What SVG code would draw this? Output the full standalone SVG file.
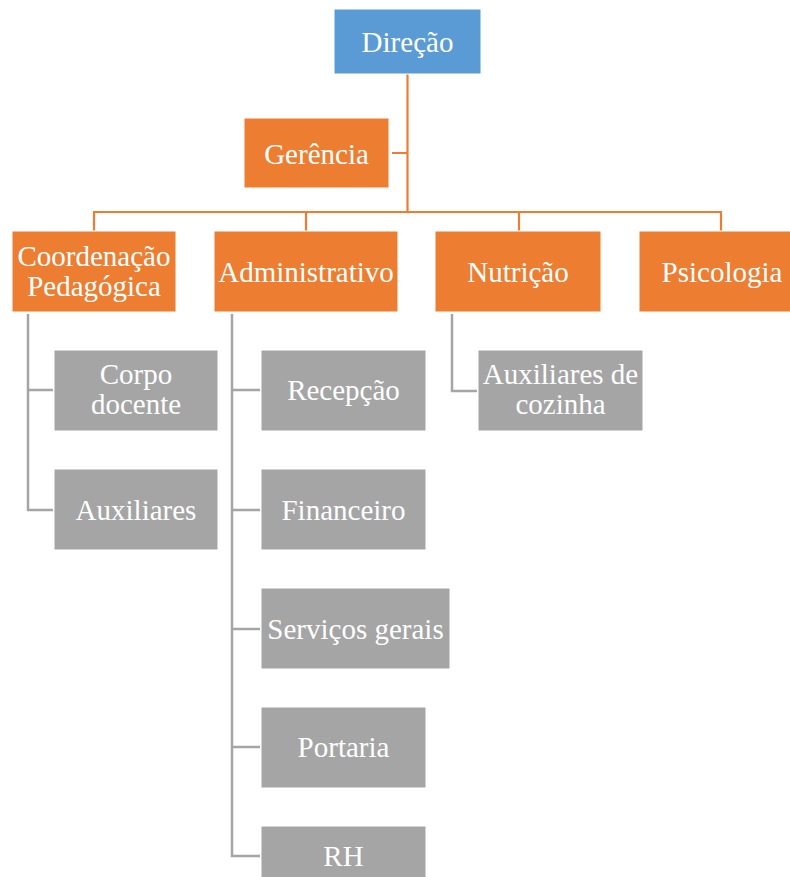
<svg xmlns="http://www.w3.org/2000/svg" width="790" height="877" viewBox="0 0 790 877">
<style>
.t{font-size:29px;fill:#fff;text-anchor:middle}
.o{fill:#ED7D31;stroke:#fff;stroke-width:1}
.b{fill:#5B9BD5;stroke:#fff;stroke-width:1}
.g{fill:#A5A5A5;stroke:#fff;stroke-width:1}
.co{fill:none;stroke:#ED7D31;stroke-width:2.2}
.cg{fill:none;stroke:#A5A5A5;stroke-width:2.5}
</style>
<rect width="790" height="877" fill="#fff"/>
<g id="connectors">
<path class="co" d="M407.5 74V212M392 153H407.5M94 231V212H721V231M306 212V231M519 212V231"/>
<path class="cg" d="M28 314V510H53M28 390H53"/>
<path class="cg" d="M232 314V856H260M232 390H260M232 510H260M232 629H260M232 747H260"/>
<path class="cg" d="M452 314V391H477"/>
</g>
<g font-family="Liberation Serif, Times New Roman, serif">
<g id="direcao"><rect class="b" x="334" y="9" width="147" height="65"/><text class="t" x="407.5" y="52">Direção</text></g>
<g id="gerencia"><rect class="o" x="244" y="118" width="145" height="70"/><text class="t" x="316.5" y="164">Gerência</text></g>
<g id="coordenacao"><rect class="o" x="12" y="231" width="164" height="81"/><text class="t" x="94" y="266">Coordenação</text><text class="t" x="94" y="296">Pedagógica</text></g>
<g id="administrativo"><rect class="o" x="214" y="231" width="184" height="81"/><text class="t" x="306" y="282">Administrativo</text></g>
<g id="nutricao"><rect class="o" x="435" y="231" width="166" height="81"/><text class="t" x="518" y="282">Nutrição</text></g>
<g id="psicologia"><rect class="o" x="639" y="231" width="166" height="81"/><text class="t" x="722" y="282">Psicologia</text></g>
<g id="corpo-docente"><rect class="g" x="54" y="350" width="164" height="81"/><text class="t" x="136" y="384">Corpo</text><text class="t" x="136" y="414">docente</text></g>
<g id="auxiliares"><rect class="g" x="54" y="469" width="164" height="81"/><text class="t" x="136" y="520">Auxiliares</text></g>
<g id="recepcao"><rect class="g" x="261" y="350" width="165" height="81"/><text class="t" x="343.5" y="400">Recepção</text></g>
<g id="financeiro"><rect class="g" x="261" y="469" width="165" height="81"/><text class="t" x="343.5" y="520">Financeiro</text></g>
<g id="servicos-gerais"><rect class="g" x="261" y="588" width="189" height="81"/><text class="t" x="355.5" y="639">Serviços gerais</text></g>
<g id="portaria"><rect class="g" x="261" y="707" width="165" height="81"/><text class="t" x="343.5" y="757">Portaria</text></g>
<g id="rh"><rect class="g" x="261" y="826" width="165" height="60"/><text class="t" x="343.5" y="866">RH</text></g>
<g id="auxiliares-cozinha"><rect class="g" x="478" y="350" width="165" height="81"/><text class="t" x="560.5" y="384">Auxiliares de</text><text class="t" x="560.5" y="414">cozinha</text></g>
</g>
</svg>
